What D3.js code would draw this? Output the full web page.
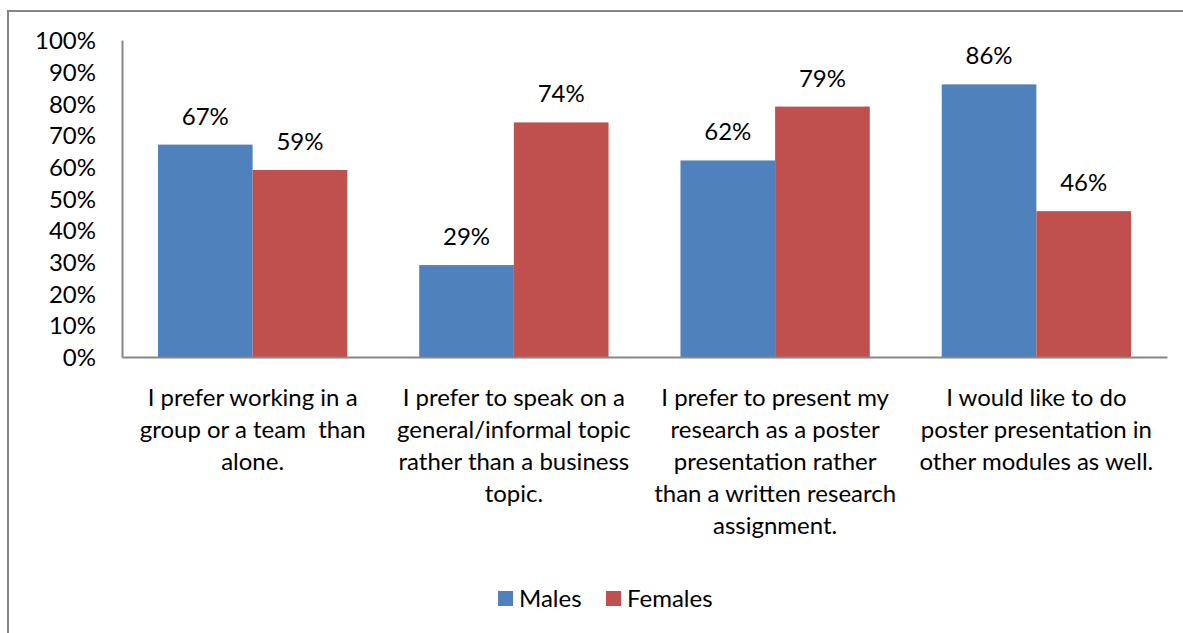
<!DOCTYPE html>
<html lang="en">
<head>
    <meta charset="UTF-8">
    <title>Poster presentation survey</title>
    <script src="https://d3js.org/d3.v7.min.js"></script>
    <style>
        body { margin: 0; background: #fff; }
        text { font-family: Lato, "Open Sans", sans-serif; fill: #000; }
    </style>
</head>
<body>
    <svg id="chart" width="1183" height="633"></svg>

    <script>
        // category labels, already split into lines as in the picture
        const categories = [
            ["I prefer working in a", "group or a team  than", "alone."],
            ["I prefer to speak on a", "general/informal topic", "rather than a business", "topic."],
            ["I prefer to present my", "research as a poster", "presentation rather", "than a written research", "assignment."],
            ["I would like to do", "poster presentation in", "other modules as well."]
        ];
        const seriesNames = ["Males", "Females"];
        const males = [67, 29, 62, 86];
        const females = [59, 74, 79, 46];
        const yTicks = [0, 10, 20, 30, 40, 50, 60, 70, 80, 90, 100];

        const colors = { Males: "#4F81BD", Females: "#C0504D" };
        const fontSize = "24px";
        const svg = d3.select("#chart");

        // outer chart border
        svg.append("rect")
            .attr("x", 8).attr("y", 11)
            .attr("width", 1250).attr("height", 700)
            .attr("fill", "none")
            .attr("stroke", "#868686")
            .attr("stroke-width", 2);

        const plot = { left: 122, right: 1167, top: 40, bottom: 357 };

        const x = d3.scaleBand()
            .domain(d3.range(categories.length))
            .range([plot.left, plot.right])
            .padding(0);

        const xInner = d3.scaleBand()
            .domain(seriesNames)
            .range([0, x.bandwidth()])
            .paddingInner(0)
            .paddingOuter(0.38);

        const y = d3.scaleLinear().domain([0, 100]).range([plot.bottom, plot.top]);

        const rows = categories.map((c, i) => ({ i, Males: males[i], Females: females[i] }));

        // bars
        const groups = svg.append("g").selectAll("g")
            .data(rows)
            .join("g")
            .attr("transform", d => `translate(${x(d.i)},0)`);

        groups.selectAll("rect")
            .data(d => seriesNames.map(s => ({ s, v: d[s] })))
            .join("rect")
            .attr("x", d => xInner(d.s))
            .attr("y", d => y(d.v))
            .attr("width", xInner.bandwidth())
            .attr("height", d => y(0) - y(d.v))
            .attr("fill", d => colors[d.s]);

        groups.selectAll("text.val")
            .data(d => seriesNames.map(s => ({ s, v: d[s] })))
            .join("text")
            .attr("class", "val")
            .attr("x", d => xInner(d.s) + xInner.bandwidth() / 2)
            .attr("y", d => y(d.v) - 20)
            .attr("text-anchor", "middle")
            .style("font-size", fontSize)
            .text(d => d.v + "%");

        // y axis
        const yAxis = svg.append("g")
            .attr("transform", `translate(${plot.left},0)`)
            .call(d3.axisLeft(y).tickValues(yTicks).tickSize(0).tickPadding(26).tickFormat(d => d + "%"));
        yAxis.select(".domain").attr("stroke", "#868686").attr("stroke-width", 2);
        yAxis.selectAll("text").style("font-size", fontSize).attr("fill", "#000").attr("dy", "0.36em");

        // x axis
        const xAxis = svg.append("g")
            .attr("transform", `translate(0,${plot.bottom})`)
            .call(d3.axisBottom(x).tickSize(0).tickFormat(""));
        xAxis.select(".domain").attr("stroke", "#868686").attr("stroke-width", 2);

        // wrapped category labels
        svg.append("g").selectAll("text")
            .data(categories)
            .join("text")
            .attr("text-anchor", "middle")
            .attr("xml:space", "preserve")
            .style("white-space", "pre")
            .style("font-size", fontSize)
            .each(function (lines, i) {
                d3.select(this).selectAll("tspan")
                    .data(lines)
                    .join("tspan")
                    .attr("x", x(i) + x.bandwidth() / 2)
                    .attr("y", (d, k) => 406 + k * 32)
                    .text(d => d);
            });

        // legend
        const legend = svg.append("g").attr("transform", "translate(498,591)");
        const items = legend.selectAll("g")
            .data(seriesNames)
            .join("g")
            .attr("transform", (d, i) => `translate(${i * 108},0)`);
        items.append("rect")
            .attr("width", 15).attr("height", 15)
            .attr("fill", d => colors[d]);
        items.append("text")
            .attr("x", 21).attr("y", 16)
            .style("font-size", fontSize)
            .text(d => d);
    </script>
</body>
</html>
